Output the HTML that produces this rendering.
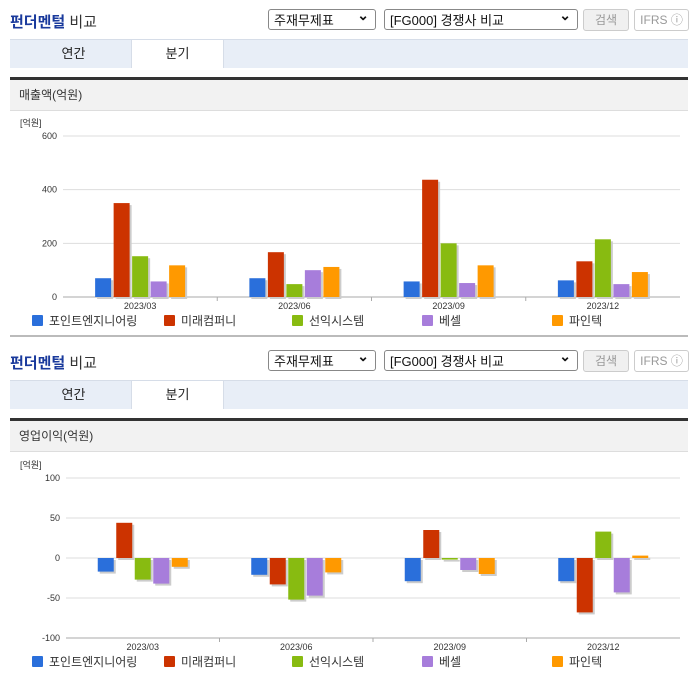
<!DOCTYPE html>
<html><head><meta charset="utf-8">
<style>
body{margin:0;width:696px;height:684px;background:#fff;font-family:"Liberation Sans","Noto Sans CJK KR",sans-serif;position:relative;overflow:hidden}
.sec{position:absolute;left:0;width:696px;height:341px}
.title{position:absolute;left:10px;top:11px;font-size:15px;color:#1a3a9c;font-weight:bold}
.title span{color:#333;font-weight:normal}
.sel{position:absolute;top:9px;height:21px;border:1px solid #888;border-radius:3px;font-size:13px;line-height:21px;padding-left:5px;box-sizing:border-box;background:#fff;color:#111}
.sel:after{content:"⌄";position:absolute;right:6px;top:-5px;font-size:14px;font-weight:bold}
.btn{position:absolute;top:9px;height:22px;border:1px solid #ccc;border-radius:3px;font-size:12px;line-height:20px;text-align:center;color:#999;box-sizing:border-box;background:#f0f0f0}
.tabs{position:absolute;left:10px;top:39px;width:678px;height:28px;background:#e8eef7;border-top:1px solid #d6dde8}
.tab{position:absolute;top:0;height:28px;line-height:28px;text-align:center;font-size:13px;color:#222;width:91px}
.tab.on{background:#fff;left:121px;border-left:1px solid #d6dde8;border-right:1px solid #d6dde8}
.bar3{position:absolute;left:10px;top:77px;width:678px;height:3px;background:#333}
.hdr{position:absolute;left:10px;top:80px;width:678px;height:30px;background:#f2f2f2;border-bottom:1px solid #ddd;font-size:12px;line-height:30px;text-indent:9px;color:#333}
.bot{position:absolute;left:10px;top:335px;width:678px;height:2px;background:#bbb}
svg{position:absolute;left:0;top:110px}
</style></head><body>
<div class="sec" style="top:0">
<div class="title">펀더멘털 <span>비교</span></div>
<div class="sel" style="left:268px;width:108px">주재무제표</div>
<div class="sel" style="left:384px;width:194px">[FG000] 경쟁사 비교</div>
<div class="btn" style="left:583px;width:46px">검색</div>
<div class="btn" style="left:634px;width:55px;background:#fff">IFRS ⓘ</div>
<div class="tabs"><div class="tab" style="left:18px">연간</div><div class="tab on">분기</div></div>
<div class="bar3"></div>
<div class="hdr">매출액(억원)</div>
<svg id="c1" width="696" height="231"></svg>
<div class="bot"></div>
</div>
<div class="sec" style="top:341px">
<div class="title">펀더멘털 <span>비교</span></div>
<div class="sel" style="left:268px;width:108px">주재무제표</div>
<div class="sel" style="left:384px;width:194px">[FG000] 경쟁사 비교</div>
<div class="btn" style="left:583px;width:46px">검색</div>
<div class="btn" style="left:634px;width:55px;background:#fff">IFRS ⓘ</div>
<div class="tabs"><div class="tab" style="left:18px">연간</div><div class="tab on">분기</div></div>
<div class="bar3"></div>
<div class="hdr">영업이익(억원)</div>
<svg id="c2" width="696" height="231"></svg>
</div>
<script>
const categories=["2023/03","2023/06","2023/09","2023/12"];
const seriesNames=["포인트엔지니어링","미래컴퍼니","선익시스템","베셀","파인텍"];
const colors=["#2a6fdb","#cc3300","#88bb11","#a77ddb","#ff9900"];
const sales1=[70,70,58,62];
const sales2=[350,167,437,133];
const sales3=[152,48,200,215];
const sales4=[58,100,52,48];
const sales5=[118,112,118,93];
const op1=[-17,-21,-29,-29];
const op2=[44,-33,35,-68];
const op3=[-27,-52,-2,33];
const op4=[-32,-47,-15,-43];
const op5=[-11,-18,-20,3];
const salesTicks=[0,200,400,600];
const opTicks=[-100,-50,0,50,100];
const NS="http://www.w3.org/2000/svg";
function mk(svg,tag,a,name){const e=document.createElementNS(NS,tag);for(const k in a)e.setAttribute(k,a[k]);


svg.appendChild(e);return e;}
function draw(id,series,ticks,left,yTop,yBot,prefix){
 const svg=document.getElementById(id);
 const min=ticks[0],max=ticks[ticks.length-1],right=680;
 const y=v=>yBot-(v-min)/(max-min)*(yBot-yTop);
 const gw=(right-left)/categories.length;
 const unit=mk(svg,'text',{x:20,y:yTop-10,'font-size':9,fill:'#333'},'y-unit-label');unit.textContent='[억원]';
 ticks.forEach(t=>{mk(svg,'line',{x1:left,x2:right,y1:y(t),y2:y(t),stroke:'#ddd'},'gridline');
  const tx=mk(svg,'text',{x:left-6,y:y(t)+3,'font-size':9,fill:'#333','text-anchor':'end'},'y-tick-label');tx.textContent=t;});
 mk(svg,'line',{x1:left,x2:right,y1:yBot,y2:yBot,stroke:'#aaa'},'x-axis');
 const z=y(Math.max(min,0));
 categories.forEach((c,i)=>{
  const cx=left+gw*(i+0.5);
  if(i>0)mk(svg,'line',{x1:left+gw*i,x2:left+gw*i,y1:yBot,y2:yBot+4,stroke:'#aaa'},'x-tick');
  const tx=mk(svg,'text',{x:cx,y:yBot+12,'font-size':9,fill:'#333','text-anchor':'middle'},'x-tick-label');tx.textContent=c;
  series.forEach((s,j)=>{
   const bx=cx-45+j*18.5,v=s[i],y1=Math.min(z,y(v)),h=Math.abs(y(v)-z);
   mk(svg,'rect',{x:bx+2,y:y1+2,width:16,height:h,fill:'#ccc'},'bar-shadow');
   mk(svg,'rect',{x:bx,y:y1,width:16,height:h,fill:colors[j]},prefix+'-bar');
  });
 });
 const lx=[32,164,292,422,552];
 seriesNames.forEach((n,j)=>{
  mk(svg,'rect',{x:lx[j],y:yBot+18,width:11,height:11,fill:colors[j],rx:1},'legend-swatch');
  const t=mk(svg,'text',{x:lx[j]+17,y:yBot+28,'font-size':12,fill:'#333'},'legend-entry');t.textContent=n;
 });
}
draw('c1',[sales1,sales2,sales3,sales4,sales5],salesTicks,63,26,187,'sales');
draw('c2',[op1,op2,op3,op4,op5],opTicks,66,27,187,'op');
</script>
</body></html>
